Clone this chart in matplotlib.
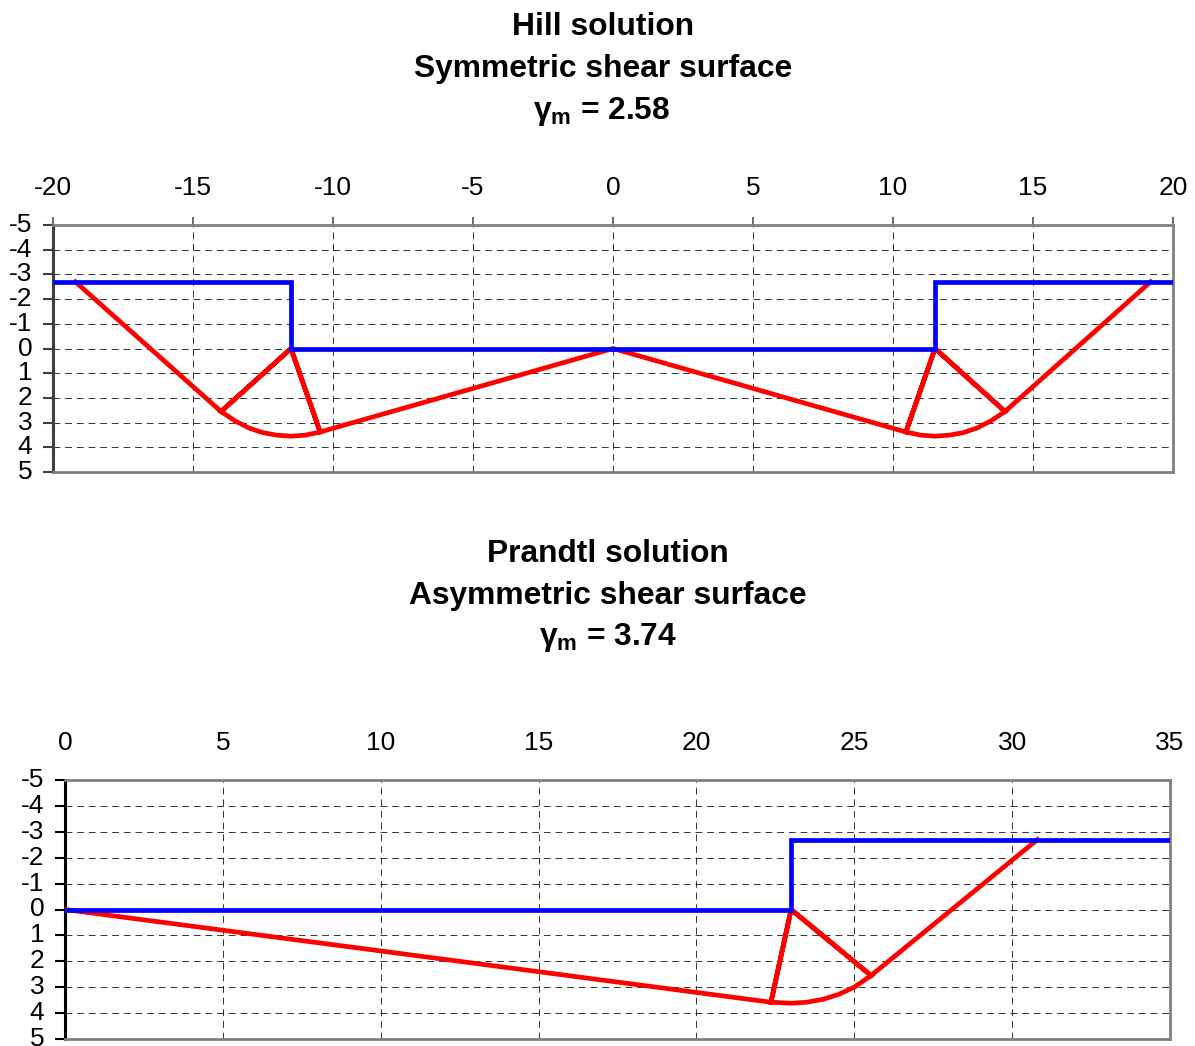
import matplotlib
matplotlib.use("Agg")
import matplotlib.pyplot as plt

plt.rcParams["font.family"] = ["Liberation Sans", "DejaVu Sans"]
plt.rcParams["axes.unicode_minus"] = False
plt.rcParams["mathtext.fontset"] = "custom"
plt.rcParams["mathtext.rm"] = "Liberation Sans:bold"
plt.rcParams["mathtext.it"] = "Liberation Sans:bold"
plt.rcParams["mathtext.bf"] = "Liberation Sans:bold"

W, H = 1195, 1046

y_ticks = [-5, -4, -3, -2, -1, 0, 1, 2, 3, 4, 5]

# Hill solution
hill_xticks = [-20, -15, -10, -5, 0, 5, 10, 15, 20]
hill_blue_x = [-20, -11.5, -11.5, 11.5, 11.5, 20]
hill_blue_y = [-2.7, -2.7, 0, 0, -2.7, -2.7]
hill_red_x = [-19.2, -14, -11.5, -14, -13.5, -13, -12.5, -12, -11.5, -11, -10.46, -11.5, -10.46, 0,
              10.46, 11.5, 10.46, 11, 11.5, 12, 12.5, 13, 13.5, 14, 11.5, 14, 19.2]
hill_red_y = [-2.7, 2.55, 0, 2.55, 2.93, 3.22, 3.41, 3.51, 3.55, 3.51, 3.38, 0, 3.38, 0,
              3.38, 0, 3.38, 3.51, 3.55, 3.51, 3.41, 3.22, 2.93, 2.55, 0, 2.55, -2.7]

# Prandtl solution
prandtl_xticks = [0, 5, 10, 15, 20, 25, 30, 35]
prandtl_blue_x = [0, 23, 23, 35]
prandtl_blue_y = [0, 0, -2.7, -2.7]
prandtl_red_x = [0, 22.36, 23, 22.36, 23, 23.5, 24, 24.5, 25, 25.53, 23, 25.53, 30.8]
prandtl_red_y = [0, 3.58, 0, 3.58, 3.62, 3.58, 3.47, 3.28, 3.0, 2.55, 0, 2.55, -2.7]


def make_axes(left, right, top, bottom):
    return fig.add_axes([left / W, 1 - bottom / H, (right - left) / W, (bottom - top) / H])


def draw_chart(ax, xticks, blue_x, blue_y, red_x, red_y, left_color, x_tick_len, x_pad):
    ax.plot(red_x, red_y, color="#ff0000", lw=3.4, solid_joinstyle="miter", zorder=3)
    ax.plot(blue_x, blue_y, color="#0000ff", lw=3.4, solid_joinstyle="miter",
            solid_capstyle="butt", zorder=4)
    ax.set_xlim(xticks[0], xticks[-1])
    ax.set_ylim(5, -5)
    ax.set_xticks(xticks)
    ax.set_yticks(y_ticks)
    ax.xaxis.tick_top()
    ax.grid(True, color="black", lw=0.7, linestyle=(0, (7, 5)), alpha=0.8)
    ax.set_axisbelow(True)
    ax.tick_params(axis="x", labelsize=19, length=x_tick_len, width=1.2, color="#555555", pad=x_pad)
    ax.tick_params(axis="y", labelsize=19, length=7, width=1.5, color=left_color, pad=8)
    for side in ["top", "right", "bottom"]:
        ax.spines[side].set_color("#808080")
        ax.spines[side].set_linewidth(2)
    ax.spines["left"].set_color(left_color)
    ax.spines["left"].set_linewidth(2.2)
    for label in ax.get_yticklabels():
        label.set_verticalalignment("center")


fig = plt.figure(figsize=(W / 100, H / 100), dpi=100)

ax1 = make_axes(53, 1173, 225, 472)
draw_chart(ax1, hill_xticks, hill_blue_x, hill_blue_y, hill_red_x, hill_red_y, "#404040", 6, 12)

ax2 = make_axes(65, 1170, 780, 1039)
draw_chart(ax2, prandtl_xticks, prandtl_blue_x, prandtl_blue_y, prandtl_red_x, prandtl_red_y, "black", 0, 18)

for txt, x, y in [("Hill solution", 603, 27), ("Symmetric shear surface", 603, 69),
                  (r"$\gamma_{m}$ = 2.58", 602, 111),
                  ("Prandtl solution", 608, 554), ("Asymmetric shear surface", 608, 596),
                  (r"$\gamma_{m}$ = 3.74", 608, 638)]:
    fig.text(x / W, 1 - y / H, txt, ha="center", va="center", fontsize=22.9, fontweight="bold")

fig.savefig("out.png", dpi=100)
